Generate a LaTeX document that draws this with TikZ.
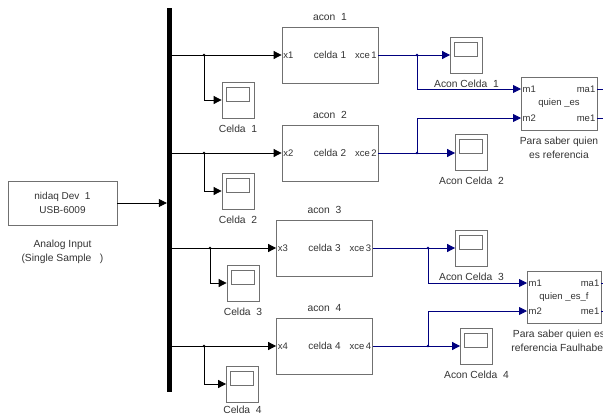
\documentclass[tikz,border=0pt]{standalone}
\usepackage{fontspec}
\setmainfont{Liberation Sans}
\usetikzlibrary{arrows.meta}
\definecolor{borde}{HTML}{707070}
\definecolor{senal}{HTML}{00007F}
\definecolor{texto}{HTML}{333333}
\tikzset{
  lab/.style={text=texto, font=\fontsize{10.3}{14.5}\selectfont, inner sep=1pt, label distance=5pt},
  port/.style={text=texto, font=\fontsize{9.5}{11}\selectfont, inner sep=1.5pt},
  bloque/.style={draw=borde, line width=0.8pt, text=texto, inner sep=0pt,
    font=\fontsize{10}{12}\selectfont},
  acon/.style={bloque, minimum width=96pt, minimum height=56pt},
  visor/.style={bloque, minimum width=32pt, minimum height=36pt,
    path picture={\draw[borde, line width=0.8pt]
      ([shift={(4,5)}]path picture bounding box.north west) rectangle
      ([shift={(-5,19)}]path picture bounding box.north east);}},
  negro/.style={line width=0.8pt, -{Triangle[length=8pt,width=8pt]}},
  azul/.style={senal, line width=0.8pt, -{Triangle[length=8pt,width=8pt]}},
}
\begin{document}
\begin{tikzpicture}[x=1pt,y=-1pt]
\useasboundingbox (0,0) rectangle (603,416);
\clip (0,0) rectangle (603,416);

% entrada y bus
\node[bloque, minimum width=109pt, minimum height=44pt, align=center,
  label={[lab, align=center, label distance=13pt]below:Analog Input\\(Single Sample\ \ \ )}]
  (daq) at (62.5,203) {nidaq Dev\ \ 1\\[2pt]USB-6009};
\node[fill=black, minimum width=5pt, minimum height=384pt, inner sep=0pt] (bus) at (169.5,200) {};
\draw[negro] (daq.east) -- (daq.east -| bus.west);

% bloques acon
\node[acon, label={[lab]above:acon\ \ 1}] (a1) at (330,55) {celda 1};
\node[acon, label={[lab]above:acon\ \ 2}] (a2) at (330,153) {celda 2};
\node[acon, label={[lab]above:acon\ \ 3}] (a3) at (324.5,248) {celda 3};
\node[acon, label={[lab]above:acon\ \ 4}] (a4) at (324.5,346) {celda 4};
\foreach \i in {1,...,4} {
  \node[port, anchor=west] at (a\i.west) {x\i};
  \node[port, anchor=east] at (a\i.east) {xce\,\i};
}

% visores de celda
\node[visor, label={[lab]below:Celda\ \ 1}] (s1) at (238,100) {};
\node[visor, label={[lab]below:Celda\ \ 2}] (s2) at (238,191) {};
\node[visor, label={[lab]below:Celda\ \ 3}] (s3) at (243,283) {};
\node[visor, label={[lab, label distance=2pt]below:Celda\ \ 4}] (s4) at (242.5,384) {};

% visores acon
\node[visor, label={[lab]below:Acon Celda\ \ 1}] (r1) at (466.5,55) {};
\node[visor, label={[lab]below:Acon Celda\ \ 2}] (r2) at (471.5,152) {};
\node[visor, label={[lab]below:Acon Celda\ \ 3}] (r3) at (471.5,248) {};
\node[visor, label={[lab]below:Acon Celda\ \ 4}] (r4) at (476.5,346) {};

% bloques quien_es
\node[bloque, minimum width=76pt, minimum height=53pt,
  label={[lab, align=center]below:Para saber quien\\es referencia}] (q1) at (559,103.5) {};
\node[bloque, minimum width=74pt, minimum height=52pt,
  label={[lab, align=center, xshift=-5pt]below:Para saber quien es\\referencia Faulhaber}] (q2) at (564,297) {};
\node[port] at (q1.center) {quien \_es};
\node[port] at (q2.center) {quien \_es\_f};
\coordinate (q1m1) at (521,89);
\coordinate (q1m2) at (521,118);
\coordinate (q2m1) at (527,283);
\coordinate (q2m2) at (527,311);
\coordinate (q1o1) at (597,89);
\coordinate (q1o2) at (597,118);
\coordinate (q2o1) at (601,283);
\coordinate (q2o2) at (601,311);
\node[port, anchor=west] at (q1m1) {m1};
\node[port, anchor=west] at (q1m2) {m2};
\node[port, anchor=west] at (q2m1) {m1};
\node[port, anchor=west] at (q2m2) {m2};
\node[port, anchor=east] at (q1o1) {ma1};
\node[port, anchor=east] at (q1o2) {me1};
\node[port, anchor=east] at (q2o1) {ma1};
\node[port, anchor=east] at (q2o2) {me1};
\draw[senal, line width=0.8pt] (q1o1) -- ++(10,0);
\draw[senal, line width=0.8pt] (q1o2) -- ++(10,0);
\draw[senal, line width=0.8pt] (q2o1) -- ++(10,0);
\draw[senal, line width=0.8pt] (q2o2) -- ++(10,0);

% ramas del bus
\coordinate (j1) at (204,55);
\coordinate (j2) at (204,153);
\coordinate (j3) at (210,248);
\coordinate (j4) at (204,346);
\foreach \i in {1,...,4} {
  \draw[negro] (bus.east |- a\i.west) -- (a\i.west);
  \draw[negro] (j\i) |- (s\i.west);
  \fill (j\i) circle (1.4);
}

% salidas acon
\coordinate (k1) at (417,55);
\coordinate (k2) at (417,153);
\coordinate (k3) at (428,248);
\coordinate (k4) at (428,346);
\foreach \i in {1,...,4} {
  \draw[azul] (a\i.east) -- (a\i.east -| r\i.west);
  \fill[senal] (k\i) circle (1.4);
}
\draw[azul] (k1) |- (q1m1);
\draw[azul] (k2) |- (q1m2);
\draw[azul] (k3) |- (q2m1);
\draw[azul] (k4) |- (q2m2);
\end{tikzpicture}
\end{document}
